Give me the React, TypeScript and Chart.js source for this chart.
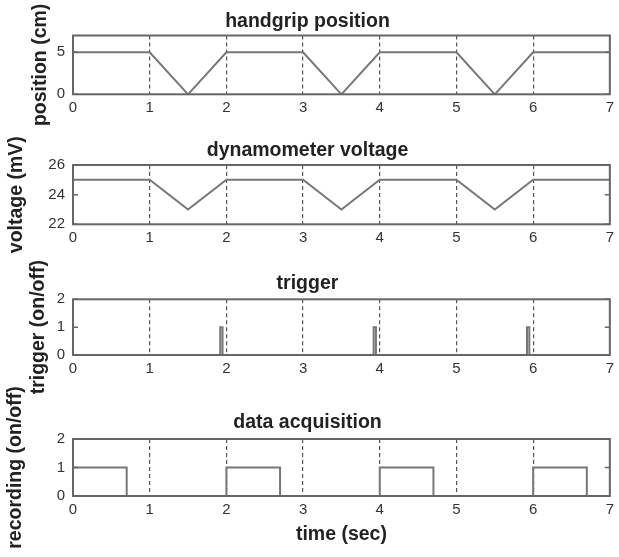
import React, { useEffect, useRef } from "react";
import { Chart, registerables } from "chart.js";

Chart.register(...registerables);

// ---- data ----
const xTickValues = [0, 1, 2, 3, 4, 5, 6, 7];

const gripTimes = [0, 1, 1.5, 2, 3, 3.5, 4, 5, 5.5, 6, 7];
const positionValues = [5, 5, 0, 5, 5, 0, 5, 5, 0, 5, 5];
const positionTicks = [0, 5];

const voltageValues = [25, 25, 23, 25, 25, 23, 25, 25, 23, 25, 25];
const voltageTicks = [22, 24, 26];

const triggerTimes = [0, 1.92, 1.92, 1.95, 1.95, 3.92, 3.92, 3.95, 3.95, 5.92, 5.92, 5.95, 5.95, 7];
const triggerValues = [0, 0, 1, 1, 0, 0, 1, 1, 0, 0, 1, 1, 0, 0];

const acqTimes = [0, 0, 0.7, 0.7, 2, 2, 2.7, 2.7, 4, 4, 4.7, 4.7, 6, 6, 6.7, 6.7, 7];
const acqValues = [0, 1, 1, 0, 0, 1, 1, 0, 0, 1, 1, 0, 0, 1, 1, 0, 0];
const onOffTicks = [0, 1, 2];

// ---- layout ----
const W = 619;
const H = 557;
const LEFT = 73;
const RIGHT = 615;
const FONT = "'Liberation Sans', Arial, Helvetica, sans-serif";
const BIG = 19.5;
const LH = BIG * 1.2;

type Panel = {
  title: string;
  yLabel: string;
  xs: number[];
  ys: number[];
  yMin: number;
  yMax: number;
  yTicks: number[];
  top: number;
  bottom: number;
  titleCenter: number;
  yLabelCenterX: number;
  xTitle?: string;
};

const panels: Panel[] = [
  { title: "handgrip position", yLabel: "position (cm)", xs: gripTimes, ys: positionValues, yMin: 0, yMax: 7, yTicks: positionTicks, top: 35.5, bottom: 94.3, titleCenter: 21.5, yLabelCenterX: 41 },
  { title: "dynamometer voltage", yLabel: "voltage (mV)", xs: gripTimes, ys: voltageValues, yMin: 22, yMax: 26, yTicks: voltageTicks, top: 165, bottom: 224.3, titleCenter: 150.5, yLabelCenterX: 17 },
  { title: "trigger", yLabel: "trigger (on/off)", xs: triggerTimes, ys: triggerValues, yMin: 0, yMax: 2, yTicks: onOffTicks, top: 299.3, bottom: 355, titleCenter: 284, yLabelCenterX: 39 },
  { title: "data acquisition", yLabel: "recording (on/off)", xs: acqTimes, ys: acqValues, yMin: 0, yMax: 2, yTicks: onOffTicks, top: 439, bottom: 496, titleCenter: 422.5, yLabelCenterX: 15.5, xTitle: "time (sec)" },
];

const framePlugin = {
  id: "frame",
  afterDatasetsDraw(chart: any) {
    const { ctx, chartArea } = chart;
    const { left, right, top, bottom } = chartArea;
    ctx.save();
    ctx.strokeStyle = "#666666";
    ctx.lineWidth = 2;
    ctx.strokeRect(left, top, right - left, bottom - top);
    const ys = chart.scales.y;
    ctx.lineWidth = 1.5;
    ys.ticks.forEach((t: any) => {
      const py = ys.getPixelForValue(t.value);
      ctx.beginPath();
      ctx.moveTo(left, py);
      ctx.lineTo(left + 5, py);
      ctx.moveTo(right, py);
      ctx.lineTo(right - 5, py);
      ctx.stroke();
    });
    ctx.restore();
  },
};

function makeConfig(p: Panel): any {
  const data = p.xs.map((x, i) => ({ x, y: p.ys[i] }));
  const titlePadTop = p.titleCenter - LH / 2;
  const titlePadBottom = p.top - titlePadTop - LH;
  const tickFont = { family: FONT, size: 15 };
  return {
    type: "line",
    data: {
      datasets: [
        {
          data,
          borderColor: "#777777",
          borderWidth: 2,
          pointRadius: 0,
          tension: 0,
          fill: false,
        },
      ],
    },
    options: {
      responsive: false,
      animation: false,
      events: [],
      layout: { padding: { left: 0, right: W - RIGHT, top: 0, bottom: 0 } },
      plugins: {
        legend: { display: false },
        tooltip: { enabled: false },
        title: {
          display: true,
          text: p.title,
          color: "#222222",
          font: { family: FONT, size: BIG, weight: "bold" },
          padding: { top: titlePadTop, bottom: titlePadBottom },
        },
      },
      scales: {
        x: {
          type: "linear",
          min: 0,
          max: 7,
          afterBuildTicks: (s: any) => {
            s.ticks = xTickValues.map((v) => ({ value: v }));
          },
          afterFit: (s: any) => {
            s.height = H - p.bottom;
          },
          grid: { display: true, drawTicks: false, color: "#555555", lineWidth: 1.2 },
          border: { display: false, dash: [4, 3] },
          ticks: { padding: 5, font: tickFont, color: "#333333" },
          title: p.xTitle
            ? {
                display: true,
                text: p.xTitle,
                color: "#222222",
                font: { family: FONT, size: BIG, weight: "bold" },
                padding: { top: 0, bottom: 10.3 },
              }
            : { display: false },
        },
        y: {
          type: "linear",
          min: p.yMin,
          max: p.yMax,
          afterBuildTicks: (s: any) => {
            s.ticks = p.yTicks.map((v) => ({ value: v }));
          },
          afterFit: (s: any) => {
            s.width = LEFT;
          },
          grid: { display: false, drawTicks: false },
          border: { display: false },
          ticks: { padding: 8, font: tickFont, color: "#333333" },
          title: {
            display: true,
            text: p.yLabel,
            color: "#222222",
            font: { family: FONT, size: BIG, weight: "bold" },
            padding: { top: p.yLabelCenterX - LH / 2, bottom: 0 },
          },
        },
      },
    },
    plugins: [framePlugin],
  };
}

export default function App() {
  const refs = useRef<(HTMLCanvasElement | null)[]>([]);

  useEffect(() => {
    const charts = panels.map((p, i) => new Chart(refs.current[i] as HTMLCanvasElement, makeConfig(p)));
    return () => charts.forEach((c) => c.destroy());
  }, []);

  return (
    <div style={{ position: "absolute", left: 0, top: 0, width: W, height: H, background: "#ffffff" }}>
      {panels.map((p, i) => (
        <canvas
          key={p.title}
          ref={(el) => {
            refs.current[i] = el;
          }}
          width={W}
          height={H}
          style={{ position: "absolute", left: 0, top: 0, width: W, height: H }}
        />
      ))}
    </div>
  );
}
